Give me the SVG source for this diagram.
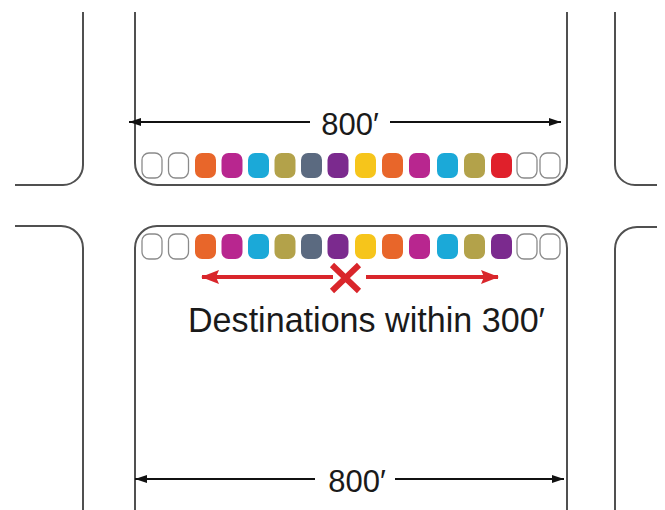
<svg xmlns="http://www.w3.org/2000/svg" width="665" height="510" viewBox="0 0 665 510">
<style>
.street{fill:none;stroke:#505050;stroke-width:2}
.dim{fill:none;stroke:#111;stroke-width:2}
.red{fill:none;stroke:#d9262b;stroke-width:4}
.lbl{font-family:"Liberation Sans","DejaVu Sans",sans-serif;fill:#1a1a1a}
.c{stroke:none}
.w{fill:#fff;stroke:#8a8a8a;stroke-width:1.3}
.or{fill:#e8662a}.mg{fill:#b8268f}.cy{fill:#1ba9d8}.ol{fill:#b3a24a}.sl{fill:#5b6a80}.pu{fill:#7b2a8e}.ye{fill:#f6c51b}.rd{fill:#e0202b}
</style>
<defs>
<marker id="ah" viewBox="0 0 12 8" refX="12" refY="4" markerWidth="12" markerHeight="8" markerUnits="userSpaceOnUse" orient="auto-start-reverse">
<path d="M0,0 L12,4 L0,8 Z" fill="#111"/>
</marker>
<marker id="rah" viewBox="0 0 18 14" refX="17" refY="7" markerWidth="18" markerHeight="14" markerUnits="userSpaceOnUse" orient="auto-start-reverse">
<path d="M0,0 L18,7 L0,14 L3,7 Z" fill="#d9262b"/>
</marker>
</defs>

<g id="streets">
<path class="street" d="M83,12 V165 A20,20 0 0 1 63,185 H15"/>
<path class="street" d="M135,12 V163 A22,22 0 0 0 157,185 H545 A22,22 0 0 0 567,163 V12"/>
<path class="street" d="M615,12 V165 A20,20 0 0 0 635,185 H657"/>
<path class="street" d="M15,226 H61 A22,22 0 0 1 83,248 V510"/>
<path class="street" d="M135,510 V248 A22,22 0 0 1 157,226 H545 A22,22 0 0 1 567,248 V510"/>
<path class="street" d="M657,227 H637 A22,22 0 0 0 615,249 V510"/>
</g>

<g id="top-row">
<rect class="w" x="142" y="153" width="20" height="25" rx="7"/>
<rect class="w" x="168.5" y="153" width="20" height="25" rx="7"/>
<rect class="c or" x="195" y="153" width="21" height="25" rx="7"/>
<rect class="c mg" x="221.5" y="153" width="21" height="25" rx="7"/>
<rect class="c cy" x="248" y="153" width="21" height="25" rx="7"/>
<rect class="c ol" x="274.5" y="153" width="21" height="25" rx="7"/>
<rect class="c sl" x="301" y="153" width="21" height="25" rx="7"/>
<rect class="c pu" x="327.5" y="153" width="21" height="25" rx="7"/>
<rect class="c ye" x="355" y="153" width="21" height="25" rx="7"/>
<rect class="c or" x="382" y="153" width="21" height="25" rx="7"/>
<rect class="c mg" x="409" y="153" width="21" height="25" rx="7"/>
<rect class="c cy" x="437" y="153" width="21" height="25" rx="7"/>
<rect class="c ol" x="464" y="153" width="21" height="25" rx="7"/>
<rect class="c rd" x="491" y="153" width="21" height="25" rx="7"/>
<rect class="w" x="517" y="153" width="20" height="25" rx="7"/>
<rect class="w" x="540" y="153" width="20" height="25" rx="7"/>
</g>

<g id="bottom-row">
<rect class="w" x="142" y="234" width="20" height="25" rx="7"/>
<rect class="w" x="168.5" y="234" width="20" height="25" rx="7"/>
<rect class="c or" x="195" y="234" width="21" height="25" rx="7"/>
<rect class="c mg" x="221.5" y="234" width="21" height="25" rx="7"/>
<rect class="c cy" x="248" y="234" width="21" height="25" rx="7"/>
<rect class="c ol" x="274.5" y="234" width="21" height="25" rx="7"/>
<rect class="c sl" x="301" y="234" width="21" height="25" rx="7"/>
<rect class="c pu" x="327.5" y="234" width="21" height="25" rx="7"/>
<rect class="c ye" x="355" y="234" width="21" height="25" rx="7"/>
<rect class="c or" x="382" y="234" width="21" height="25" rx="7"/>
<rect class="c mg" x="409" y="234" width="21" height="25" rx="7"/>
<rect class="c cy" x="437" y="234" width="21" height="25" rx="7"/>
<rect class="c ol" x="464" y="234" width="21" height="25" rx="7"/>
<rect class="c pu" x="491" y="234" width="21" height="25" rx="7"/>
<rect class="w" x="517" y="234" width="20" height="25" rx="7"/>
<rect class="w" x="540" y="234" width="20" height="25" rx="7"/>
</g>

<g id="connectors">
<line class="dim" x1="310" y1="122" x2="129" y2="122" marker-end="url(#ah)"/>
<line class="dim" x1="390" y1="122" x2="561" y2="122" marker-end="url(#ah)"/>
<line class="dim" x1="315" y1="479" x2="135" y2="479" marker-end="url(#ah)"/>
<line class="dim" x1="395" y1="479" x2="564" y2="479" marker-end="url(#ah)"/>
<line class="red" x1="333" y1="277" x2="202" y2="277" marker-end="url(#rah)"/>
<line class="red" x1="366" y1="277" x2="498" y2="277" marker-end="url(#rah)"/>
</g>

<g id="origin-x">
<path d="M332,265 L359,291 M359,265 L332,291" stroke="#d9262b" stroke-width="6" fill="none"/>
</g>

<g id="labels">
<text class="lbl" x="350" y="135" font-size="31" text-anchor="middle">800′</text>
<text class="lbl" x="357" y="492" font-size="31" text-anchor="middle">800′</text>
<text class="lbl" x="188" y="332" font-size="35" textLength="357" lengthAdjust="spacingAndGlyphs">Destinations within 300′</text>
</g>
</svg>
